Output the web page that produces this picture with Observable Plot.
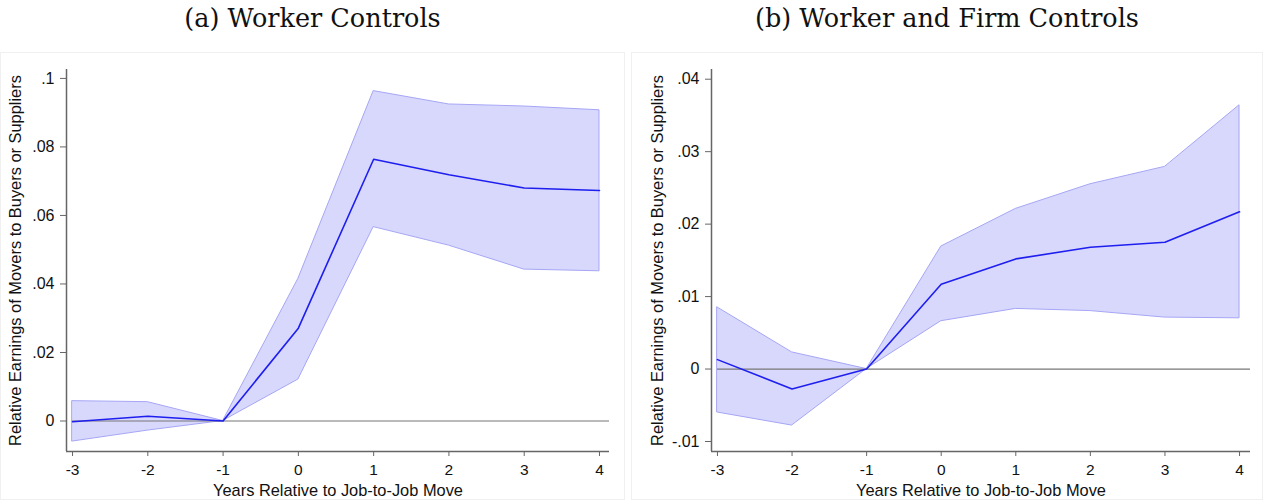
<!DOCTYPE html>
<html>
<head>
<meta charset="utf-8">
<script src="https://cdn.jsdelivr.net/npm/d3@7"></script>
<script src="https://cdn.jsdelivr.net/npm/@observablehq/plot@0.6"></script>
<style>
  body { margin: 0; background: #fff; }
  #wrap { display: flex; width: 1263px; height: 500px; }
  .panel { display: flex; flex-direction: column; }
  .title { height: 52px; line-height: 36px; text-align: center;
           font-family: "DejaVu Serif", "Liberation Serif", serif; font-size: 25.5px; color: #111; }
  .frame { outline: 1px solid #f0f0f0; outline-offset: -1px; }
  .frame svg { display: block; }
</style>
</head>
<body>
<div id="wrap">
  <div class="panel" style="width:625px">
    <div class="title">(a) Worker Controls</div>
    <div class="frame" id="panelA"></div>
  </div>
  <div style="width:6px"></div>
  <div class="panel" style="width:632px">
    <div class="title">(b) Worker and Firm Controls</div>
    <div class="frame" id="panelB"></div>
  </div>
</div>
<script>
// years relative to the move
const years = [-3, -2, -1, 0, 1, 2, 3, 4];

// (a) worker controls
const aMean = [-0.0002, 0.0014, 0, 0.0271, 0.0764, 0.0719, 0.0680, 0.0673];
const aLo   = [-0.0060, -0.0028, 0, 0.0121, 0.0566, 0.0512, 0.0442, 0.0437];
const aHi   = [0.0058, 0.0055, 0, 0.0415, 0.0963, 0.0924, 0.0918, 0.0907];
const aTicks = [0, 0.02, 0.04, 0.06, 0.08, 0.1];

// (b) worker and firm controls
const bMean = [0.0013, -0.00275, 0, 0.0117, 0.0152, 0.0168, 0.0175, 0.0217];
const bLo   = [-0.0060, -0.0078, 0, 0.0066, 0.0083, 0.0080, 0.0071, 0.0070];
const bHi   = [0.0085, 0.0023, 0, 0.0169, 0.0221, 0.0255, 0.0279, 0.0364];
const bTicks = [-0.01, 0, 0.01, 0.02, 0.03, 0.04];

const yTitle = "Relative Earnings of Movers to Buyers or Suppliers";
const xTitle = "Years Relative to Job-to-Job Move";

// stata style: drop the leading zero, ".02", "-.01"
function stataFmt(d){
    if (d === 0) return "0";
    return String(+d.toFixed(3)).replace("0.", ".");
}

function drawPanel(targetId, mean, lo, hi, yticks, o){
    const rows = years.map((t, i) => ({t: t, m: mean[i], lo: lo[i], hi: hi[i]}));
    const xdom = o.xdom, ydom = o.ydom;
    const chart = Plot.plot({
        width: o.width,
        height: 448,
        marginLeft: o.marginLeft,
        marginRight: o.marginRight,
        marginTop: 17,
        marginBottom: 49,
        style: {fontFamily: "'Liberation Sans', Arial, sans-serif", fontSize: "16px", color: "#111", background: "#fff"},
        x: {domain: xdom},
        y: {domain: ydom},
        marks: [
            Plot.areaY(rows, {x: "t", y1: "lo", y2: "hi", fill: "#d8d8fc", stroke: "#a6a6f6", strokeWidth: 1}),
            Plot.ruleY([0], {x1: years[0], x2: xdom[1], stroke: "#777", strokeWidth: 1.2}),
            Plot.line(rows, {x: "t", y: "m", stroke: "#1e1ef0", strokeWidth: 1.6}),
            Plot.ruleX([xdom[0]], {stroke: "#666", strokeWidth: 1.5}),
            Plot.ruleY([ydom[0]], {stroke: "#666", strokeWidth: 1.5}),
            // tick marks and tick labels
            Plot.axisY({ticks: yticks, tickFormat: stataFmt, tickSize: 6, tickPadding: 6,
                        stroke: "#666", label: null, fontSize: 16}),
            Plot.axisX({ticks: years, tickFormat: d => String(d), tickSize: 5, tickPadding: 7,
                        stroke: "#666", label: null, fontSize: 15.5}),
            // axis titles
            Plot.axisY({ticks: [], label: yTitle, labelAnchor: "center", labelArrow: "none",
                        labelOffset: o.labelOffset, fontSize: 16.4}),
            Plot.axisX({ticks: [], label: xTitle, labelAnchor: "center", labelArrow: "none",
                        labelOffset: 44, fontSize: 16.4})
        ]
    });
    document.getElementById(targetId).append(chart);
}

drawPanel("panelA", aMean, aLo, aHi, aTicks,
          {width: 625, marginLeft: 66, marginRight: 16, xdom: [-3.08, 4.133], ydom: [-0.0089, 0.1026], labelOffset: 57});
drawPanel("panelB", bMean, bLo, bHi, bTicks,
          {width: 632, marginLeft: 80, marginRight: 13, xdom: [-3.08, 4.147], ydom: [-0.01138, 0.04134], labelOffset: 60});
</script>
</body>
</html>
